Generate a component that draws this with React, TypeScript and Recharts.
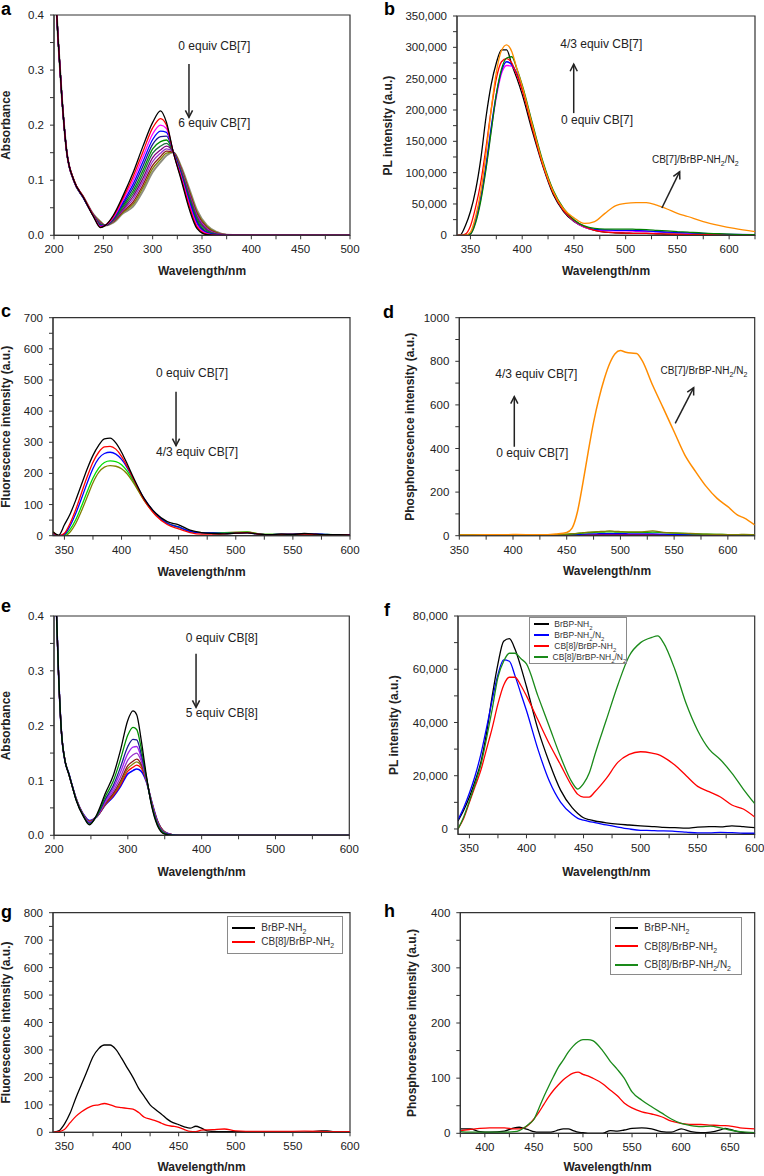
import React from 'react';
import { LineChart, Line, XAxis, YAxis, ReferenceArea, ReferenceLine, ReferenceDot, Legend } from 'recharts';

const FONT = '"Liberation Sans", Arial, Helvetica, sans-serif';
const INK = '#222';

// ---------- a: absorbance, CB[7] titration (0 -> 6 equiv)
const A_X = [200, 204, 208, 213, 220, 230, 240, 247, 252, 260, 270, 280, 290, 300, 308, 314, 321, 329, 337, 345, 355, 365, 375, 400, 500];
const A_BLACK = [0.5, 0.36, 0.25, 0.15, 0.1, 0.068, 0.034, 0.014, 0.018, 0.036, 0.072, 0.113, 0.161, 0.205, 0.226, 0.205, 0.15, 0.1, 0.048, 0.012, 0.001, 0, 0, 0, 0];
const A_RED = [0.5, 0.36, 0.25, 0.15, 0.101, 0.069, 0.035, 0.015, 0.018, 0.034, 0.068, 0.106, 0.151, 0.195, 0.212, 0.2, 0.15, 0.103, 0.053, 0.015, 0.002, 0, 0, 0, 0];
const A_MAGENTA = [0.5, 0.36, 0.25, 0.15, 0.099, 0.068, 0.035, 0.016, 0.018, 0.032, 0.064, 0.099, 0.142, 0.184, 0.2, 0.194, 0.15, 0.106, 0.057, 0.018, 0.003, 0, 0, 0, 0];
const A_BLUE = [0.5, 0.36, 0.25, 0.15, 0.1, 0.067, 0.035, 0.017, 0.018, 0.031, 0.06, 0.092, 0.133, 0.174, 0.189, 0.187, 0.151, 0.108, 0.061, 0.021, 0.004, 0.001, 0, 0, 0];
const A_NAVY = [0.5, 0.36, 0.25, 0.15, 0.1, 0.068, 0.036, 0.018, 0.018, 0.03, 0.057, 0.086, 0.125, 0.165, 0.179, 0.18, 0.151, 0.11, 0.064, 0.024, 0.005, 0.001, 0, 0, 0];
const A_GREEN = [0.5, 0.36, 0.25, 0.15, 0.099, 0.067, 0.035, 0.019, 0.018, 0.029, 0.054, 0.08, 0.117, 0.157, 0.17, 0.173, 0.151, 0.112, 0.067, 0.027, 0.006, 0.001, 0, 0, 0];
const A_DKGREEN = [0.5, 0.36, 0.25, 0.15, 0.1, 0.068, 0.036, 0.02, 0.018, 0.028, 0.051, 0.075, 0.11, 0.149, 0.162, 0.167, 0.151, 0.114, 0.07, 0.03, 0.008, 0.002, 0, 0, 0];
const A_PURPLE = [0.5, 0.36, 0.25, 0.15, 0.101, 0.069, 0.036, 0.021, 0.018, 0.027, 0.048, 0.07, 0.103, 0.141, 0.155, 0.162, 0.151, 0.116, 0.073, 0.033, 0.01, 0.002, 0, 0, 0];
const A_VIOLET = [0.5, 0.36, 0.25, 0.15, 0.1, 0.068, 0.036, 0.022, 0.018, 0.026, 0.046, 0.065, 0.097, 0.134, 0.149, 0.157, 0.151, 0.118, 0.076, 0.036, 0.012, 0.003, 0.001, 0, 0];
const A_BROWN = [0.5, 0.36, 0.25, 0.15, 0.101, 0.069, 0.037, 0.023, 0.018, 0.025, 0.044, 0.06, 0.091, 0.127, 0.143, 0.153, 0.151, 0.12, 0.079, 0.039, 0.014, 0.004, 0.001, 0, 0];
const A_OLIVE = [0.5, 0.36, 0.25, 0.15, 0.1, 0.068, 0.037, 0.024, 0.018, 0.024, 0.042, 0.056, 0.086, 0.121, 0.138, 0.149, 0.151, 0.122, 0.082, 0.042, 0.016, 0.005, 0.001, 0, 0];
const A_GREY = [0.5, 0.36, 0.25, 0.15, 0.1, 0.069, 0.038, 0.025, 0.018, 0.023, 0.04, 0.052, 0.08, 0.115, 0.133, 0.145, 0.151, 0.124, 0.085, 0.045, 0.018, 0.006, 0.001, 0, 0];

// ---------- b: PL intensity, CB[7]
const B_X = [337, 340, 345, 350, 355, 360, 365, 370, 375, 380, 385, 390, 395, 400, 410, 420, 430, 440, 450, 460, 470, 480, 490, 500, 510, 520, 530, 540, 550, 560, 575, 590, 605, 625];
const B_BLACK = [0, 500, 15000, 38000, 72000, 122000, 188000, 240000, 275000, 296000, 296000, 272000, 250000, 225000, 165000, 110000, 65000, 38000, 22000, 13000, 8000, 5000, 4000, 3500, 3000, 3000, 2500, 2000, 2000, 1500, 1000, 1000, 500, 0];
const B_RED = [0, 0, 2000, 15000, 45000, 85000, 140000, 200000, 250000, 277000, 282000, 275000, 255000, 232000, 170000, 112000, 68000, 40000, 24000, 14000, 8000, 5000, 4000, 3500, 3000, 3000, 2500, 2000, 1500, 1000, 1000, 500, 0, 0];
const B_ORANGE = [0, 0, 0, 5000, 30000, 70000, 130000, 200000, 260000, 295000, 304000, 293000, 265000, 238000, 175000, 115000, 70000, 42000, 28000, 19000, 22000, 35000, 47000, 51000, 52000, 52000, 48000, 42000, 35000, 30000, 22000, 16000, 11000, 6000];
const B_GREEN = [0, 0, 0, 2000, 20000, 55000, 105000, 165000, 225000, 265000, 283000, 285000, 265000, 240000, 178000, 118000, 72000, 43000, 25000, 15000, 11000, 10000, 10000, 10000, 9500, 9000, 8000, 7000, 6000, 5000, 3500, 2500, 1500, 1000];
const B_BLUE = [0, 0, 0, 3000, 25000, 62000, 112000, 172000, 225000, 262000, 277000, 272000, 258000, 236000, 175000, 115000, 70000, 41000, 24000, 14000, 9500, 8500, 8000, 8000, 7500, 7000, 6000, 5000, 4500, 4000, 3000, 2000, 1500, 1000];
const B_MAGENTA = [0, 0, 0, 2000, 22000, 58000, 108000, 168000, 220000, 258000, 271000, 270000, 256000, 234000, 174000, 114000, 69000, 40000, 23000, 13000, 8500, 7500, 7000, 7000, 6500, 6000, 5500, 4500, 4000, 3500, 2500, 1500, 1000, 500];

// ---------- c: fluorescence, CB[7]
const C_X = [340, 345, 350, 355, 360, 365, 370, 375, 380, 385, 390, 395, 400, 405, 410, 420, 430, 440, 450, 460, 470, 480, 490, 500, 510, 520, 530, 540, 550, 560, 570, 580, 590, 600];
const C_BLACK = [12, 2, 35, 70, 115, 165, 215, 258, 290, 311, 313, 298, 268, 230, 190, 118, 72, 45, 35, 18, 10, 7, 6, 8, 9, 5, 3, 5, 4, 7, 5, 3, 3, 2];
const C_RED = [10, 0, 8, 40, 85, 138, 190, 236, 268, 285, 287, 278, 255, 222, 185, 113, 65, 36, 22, 10, 5, 5, 6, 8, 10, 5, 3, 4, 4, 5, 4, 3, 3, 2];
const C_BLUE = [8, 0, 5, 32, 72, 120, 170, 216, 248, 264, 268, 262, 245, 218, 185, 118, 70, 40, 28, 14, 9, 9, 7, 8, 9, 5, 3, 5, 5, 6, 6, 4, 3, 3];
const C_GREEN = [10, 0, 2, 20, 52, 95, 142, 185, 217, 235, 240, 238, 228, 207, 178, 114, 68, 40, 27, 14, 10, 9, 9, 10, 11, 6, 4, 5, 4, 5, 4, 4, 3, 3];
const C_OLIVE = [14, 0, 0, 12, 40, 80, 125, 170, 203, 220, 225, 223, 215, 198, 172, 112, 67, 40, 28, 14, 10, 9, 10, 11, 12, 6, 4, 5, 5, 5, 4, 3, 3, 3];

// ---------- d: phosphorescence, CB[7]
const D_X = [350, 375, 400, 425, 440, 450, 455, 460, 465, 470, 475, 480, 485, 490, 495, 500, 505, 510, 515, 520, 530, 540, 550, 560, 570, 580, 590, 600, 610, 615, 625];
const D_ORANGE = [3, 4, 5, 4, 8, 15, 35, 110, 240, 385, 520, 630, 720, 790, 835, 849, 842, 838, 836, 805, 690, 584, 477, 370, 294, 225, 171, 133, 92, 82, 49];
const D_GREEN = [4, 5, 4, 4, 5, 6, 8, 10, 12, 14, 15, 16, 17, 18, 17, 16, 16, 15, 15, 15, 16, 14, 12, 10, 8, 7, 6, 5, 4, 4, 3];
const D_OLIVE = [3, 4, 3, 4, 5, 7, 9, 11, 14, 16, 18, 19, 20, 22, 20, 19, 18, 18, 18, 18, 22, 15, 13, 11, 9, 7, 6, 5, 5, 6, 4];
const D_BLUE = [4, 3, 3, 3, 4, 4, 5, 6, 7, 8, 8, 9, 9, 9, 9, 9, 9, 8, 8, 8, 8, 7, 6, 5, 5, 4, 4, 4, 3, 3, 3];
const D_RED = [3, 3, 3, 3, 3, 3, 3, 4, 4, 4, 4, 5, 5, 5, 5, 5, 5, 5, 5, 5, 5, 4, 4, 4, 4, 3, 3, 3, 3, 3, 5];
const D_BLACK = [2, 2, 2, 2, 3, 5, 7, 4, 3, 3, 3, 3, 3, 3, 3, 3, 3, 3, 3, 3, 3, 3, 3, 2, 2, 2, 2, 2, 2, 2, 2];

// ---------- e: absorbance, CB[8] titration (0 -> 5 equiv)
const E_X = [200, 203, 206, 210, 215, 220, 225, 230, 240, 248, 258, 270, 280, 290, 300, 307, 312, 318, 325, 332, 340, 350, 360, 370, 400, 500, 600];
const E_BLACK = [0.5, 0.42, 0.3, 0.19, 0.135, 0.112, 0.088, 0.064, 0.034, 0.019, 0.038, 0.078, 0.108, 0.155, 0.21, 0.227, 0.22, 0.175, 0.11, 0.055, 0.018, 0.002, 0, 0, 0, 0, 0];
const E_GREEN = [0.5, 0.42, 0.3, 0.19, 0.136, 0.112, 0.088, 0.065, 0.035, 0.02, 0.036, 0.072, 0.098, 0.138, 0.183, 0.197, 0.193, 0.16, 0.107, 0.057, 0.02, 0.003, 0, 0, 0, 0, 0];
const E_NAVY = [0.5, 0.42, 0.3, 0.19, 0.135, 0.113, 0.089, 0.065, 0.035, 0.022, 0.035, 0.067, 0.09, 0.124, 0.162, 0.175, 0.174, 0.149, 0.105, 0.058, 0.022, 0.004, 0.001, 0, 0, 0, 0];
const E_PURPLE = [0.5, 0.42, 0.3, 0.19, 0.136, 0.112, 0.088, 0.066, 0.036, 0.023, 0.035, 0.064, 0.085, 0.115, 0.149, 0.161, 0.162, 0.142, 0.104, 0.059, 0.023, 0.004, 0.001, 0, 0, 0, 0];
const E_VIOLET = [0.5, 0.42, 0.3, 0.19, 0.135, 0.113, 0.089, 0.066, 0.036, 0.024, 0.034, 0.061, 0.08, 0.106, 0.137, 0.147, 0.15, 0.136, 0.103, 0.06, 0.024, 0.005, 0.001, 0, 0, 0, 0];
const E_BROWN = [0.5, 0.42, 0.3, 0.19, 0.136, 0.112, 0.088, 0.066, 0.037, 0.025, 0.034, 0.059, 0.076, 0.099, 0.127, 0.135, 0.139, 0.13, 0.102, 0.061, 0.025, 0.005, 0.001, 0, 0, 0, 0];
const E_OLIVE = [0.5, 0.42, 0.3, 0.19, 0.135, 0.113, 0.089, 0.067, 0.037, 0.026, 0.034, 0.058, 0.074, 0.095, 0.122, 0.13, 0.134, 0.127, 0.101, 0.062, 0.026, 0.006, 0.001, 0, 0, 0, 0];
const E_RED = [0.5, 0.42, 0.3, 0.19, 0.136, 0.112, 0.088, 0.067, 0.037, 0.026, 0.034, 0.057, 0.072, 0.092, 0.117, 0.124, 0.128, 0.123, 0.1, 0.062, 0.026, 0.006, 0.001, 0, 0, 0, 0];
const E_BLUE = [0.5, 0.42, 0.3, 0.19, 0.135, 0.113, 0.089, 0.067, 0.038, 0.027, 0.034, 0.056, 0.07, 0.089, 0.112, 0.118, 0.121, 0.117, 0.098, 0.063, 0.027, 0.006, 0.001, 0, 0, 0, 0];

// ---------- f: PL intensity, CB[8]
const F_X = [340, 345, 350, 355, 360, 365, 370, 375, 380, 385, 390, 395, 400, 410, 420, 430, 440, 445, 450, 455, 460, 470, 480, 490, 500, 510, 515, 520, 530, 540, 550, 560, 570, 580, 590, 600];
const F_BLACK = [3000, 7000, 12000, 18000, 25000, 36000, 50000, 62000, 70500, 71500, 67500, 61000, 53500, 37500, 25000, 14500, 8000, 5800, 4200, 3500, 3000, 2300, 1800, 1500, 1200, 900, 800, 600, 500, 300, 700, 900, 800, 1200, 900, 500];
const F_BLUE = [3500, 8000, 13500, 20000, 28000, 38000, 48500, 58000, 63500, 63000, 57500, 51000, 44500, 30000, 18000, 10000, 5500, 4000, 3300, 2800, 2400, 1500, 700, 0, -500, -600, -700, -700, -900, -1200, -1500, -1500, -1300, -1400, -1600, -1600];
const F_RED = [0, 4000, 10000, 16000, 22000, 30000, 38000, 47000, 54000, 57000, 57000, 54000, 50000, 41000, 32000, 24000, 16000, 13000, 12000, 12000, 14000, 19000, 25000, 28000, 29000, 28500, 28000, 27000, 24000, 20000, 16000, 14000, 12000, 9000, 7500, 4500];
const F_GREEN = [0, 4500, 10500, 17000, 24000, 34000, 45000, 57000, 63000, 66000, 66000, 64000, 62000, 50000, 38500, 27000, 17500, 15000, 17000, 21000, 28000, 41000, 54000, 65000, 70000, 72000, 72500, 70000, 60000, 47000, 37000, 30000, 26000, 21000, 15000, 9500];

// ---------- g: fluorescence, CB[8]
const G_X = [340, 345, 350, 355, 360, 365, 370, 375, 380, 385, 390, 395, 400, 405, 410, 415, 420, 425, 430, 435, 440, 445, 450, 455, 460, 465, 470, 475, 480, 490, 500, 520, 540, 560, 575, 580, 590, 600];
const G_BLACK = [0, 5, 30, 70, 125, 175, 225, 275, 305, 318, 318, 302, 270, 235, 200, 160, 130, 100, 82, 66, 48, 35, 28, 20, 15, 22, 15, 5, 3, 2, 2, 2, 1, 0, 5, 5, 0, 0];
const G_RED = [0, 2, 10, 35, 58, 75, 88, 97, 100, 105, 100, 93, 90, 87, 84, 72, 55, 48, 42, 33, 25, 22, 18, 10, 3, 2, 8, 9, 10, 12, 5, 3, 3, 4, 3, 2, 2, 2];

// ---------- h: phosphorescence, CB[8]
const H_X = [375, 385, 395, 405, 420, 430, 435, 440, 445, 450, 455, 460, 465, 470, 475, 480, 485, 490, 495, 500, 505, 510, 520, 528, 535, 542, 550, 560, 570, 580, 590, 600, 610, 620, 630, 640, 645, 650, 660, 675];
const H_BLACK = [8, 8, 3, 2, 4, 10, 11, 9, 6, 3, 2, 2, 2, 3, 6, 8, 8, 5, 2, 1, 0, 0, 0, 5, 4, 6, 9, 10, 8, 3, 2, 8, 3, 1, 2, 6, 9, 7, 2, 0];
const H_RED = [5, 7, 9, 10, 10, 8, 8, 10, 16, 26, 38, 52, 66, 78, 88, 97, 104, 109, 111, 107, 104, 100, 90, 78, 68, 55, 46, 39, 35, 30, 22, 18, 16, 16, 15, 14, 14, 13, 10, 8];
const H_GREEN = [3, 2, 2, 2, 2, 3, 5, 10, 17, 25, 45, 66, 85, 103, 120, 133, 147, 158, 166, 170, 170, 168, 150, 130, 116, 100, 75, 60, 48, 37, 26, 18, 14, 12, 13, 10, 8, 6, 3, 1];

// ---------- axis tick labels
const A_XMAJOR = [200, 250, 300, 350, 400, 450, 500];
const ABS_YMAJOR = [0, 0.1, 0.2, 0.3, 0.4];
const PL_XMAJOR = [350, 400, 450, 500, 550, 600];
const B_YMAJOR = [0, 50000, 100000, 150000, 200000, 250000, 300000, 350000];
const C_YMAJOR = [0, 100, 200, 300, 400, 500, 600, 700];
const D_YMAJOR = [0, 200, 400, 600, 800, 1000];
const E_XMAJOR = [200, 300, 400, 500, 600];
const F_YMAJOR = [0, 20000, 40000, 60000, 80000];
const G_YMAJOR = [0, 100, 200, 300, 400, 500, 600, 700, 800];
const H_XMAJOR = [400, 450, 500, 550, 600, 650];
const H_YMAJOR = [0, 100, 200, 300, 400];

type Series = { name: string; color: string; ys: number[]; xs?: number[]; width?: number };
type Note = { x: number; y: number; text: string; size?: number };
type Arrow = { x1: number; y1: number; x2: number; y2: number };
type LegendBox = { left: number; top: number; width: number; rowH: number; padTop: number; size: number; sample: number; gap: number };
type PanelDef = {
  letter: string; x0: number; y0: number; w: number; h: number;
  plot: [number, number, number, number]; yTitleX: number; xTitleY: number;
  xs: number[]; xDomain: [number, number]; yDomain: [number, number];
  xMajor: number[]; yMajor: number[]; yFmt: (v: number) => string;
  xTitle: string; yTitle: string; series: Series[]; notes?: Note[]; arrows?: Arrow[]; legend?: LegendBox;
};

const pts = (xs: number[], ys: number[]) => xs.map((x, i) => ({ x, y: ys[i] }));
const comma = (v: number) => v.toLocaleString('en-US');
const plain = (v: number) => String(v);
const oneDec = (v: number) => v.toFixed(1);

function withMinor(major: number[], domain: [number, number]) {
  const step = major[1] - major[0];
  const out: number[] = [];
  const first = major[0] - step / 2;
  if (first >= domain[0] - 1e-9) out.push(first);
  major.forEach((m, i) => {
    out.push(m);
    const mid = m + step / 2;
    if (i < major.length - 1 || mid <= domain[1] + 1e-9) out.push(mid);
  });
  return out;
}

function chemSvg(text: string, size: number) {
  const segs = text.split(/(?<=[NH])2/);
  const shift = size * 0.28;
  const out: React.ReactNode[] = [];
  segs.forEach((s, i) => {
    if (s) out.push(<tspan key={'t' + i} dy={i > 0 ? -shift : 0}>{s}</tspan>);
    if (i < segs.length - 1) out.push(<tspan key={'s' + i} fontSize={size * 0.7} dy={shift}>2</tspan>);
  });
  return out;
}

function chemHtml(text: string) {
  const segs = text.split(/(?<=[NH])2/);
  return segs.map((s, i) => (
    <React.Fragment key={i}>
      {s}
      {i < segs.length - 1 && <sub style={{ fontSize: '0.7em', lineHeight: 0 }}>2</sub>}
    </React.Fragment>
  ));
}

const ArrowShape = (p: any) => {
  const { x1, y1, x2, y2 } = p;
  const a = Math.atan2(y2 - y1, x2 - x1);
  const hl = 7;
  const hw = 3.6;
  const bx = x2 - hl * Math.cos(a);
  const by = y2 - hl * Math.sin(a);
  const px = -Math.sin(a) * hw;
  const py = Math.cos(a) * hw;
  return (
    <g>
      <line x1={x1} y1={y1} x2={x2} y2={y2} stroke={INK} strokeWidth={1.5} />
      <path d={`M${bx + px},${by + py} L${x2},${y2} L${bx - px},${by - py}`} fill="none" stroke={INK} strokeWidth={1.5} />
    </g>
  );
};

const makeTick = (major: number[], fmt: (v: number) => string, axis: 'x' | 'y') => (props: any) => {
  const { x, y, payload } = props;
  if (!major.includes(payload.value)) return <g />;
  return (
    <text x={x} y={y} dy={axis === 'x' ? '0.71em' : '0.35em'} textAnchor={axis === 'x' ? 'middle' : 'end'} fontSize={11.5} fill={INK}>
      {fmt(payload.value)}
    </text>
  );
};

function BoxLegend({ payload, cfg }: { payload: any[]; cfg: LegendBox }) {
  return (
    <div style={{ border: '1px solid #8a8a8a', background: '#fff', paddingTop: cfg.padTop, paddingBottom: cfg.padTop, fontSize: cfg.size, color: '#333', fontFamily: FONT }}>
      {(payload || []).map((item: any) => (
        <div key={item.value} style={{ display: 'flex', alignItems: 'center', height: cfg.rowH, whiteSpace: 'nowrap' }}>
          <span style={{ display: 'inline-block', marginLeft: 4, width: cfg.sample, borderTop: `2px solid ${item.color}`, marginRight: cfg.gap }} />
          <span>{chemHtml(String(item.value))}</span>
        </div>
      ))}
    </div>
  );
}

function Panel({ p }: { p: PanelDef }) {
  const [L, T, R, B] = p.plot;
  const xh = p.xTitleY + 4 - B;
  const margin = { top: T - p.y0, right: p.x0 + p.w - R, left: p.yTitleX - p.x0, bottom: p.y0 + p.h - B - xh };
  const xTicks = withMinor(p.xMajor, p.xDomain);
  const yTicks = withMinor(p.yMajor, p.yDomain);
  return (
    <div style={{ position: 'absolute', left: p.x0, top: p.y0 }}>
      <LineChart width={p.w} height={p.h} margin={margin}>
        <ReferenceArea x1={p.xDomain[0]} x2={p.xDomain[1]} y1={p.yDomain[0]} y2={p.yDomain[1]} fill="none" fillOpacity={0} stroke="#333" strokeWidth={1.2} ifOverflow="visible" />
        <XAxis
          type="number" dataKey="x" domain={p.xDomain} allowDataOverflow ticks={xTicks} interval={0}
          height={xh} tickSize={4} tickMargin={6} stroke="#333" tick={makeTick(p.xMajor, plain, 'x')}
          label={{ value: p.xTitle, position: 'insideBottom', offset: 0, fontSize: 12, fontWeight: 700, fill: INK }}
        />
        <YAxis
          type="number" domain={p.yDomain} allowDataOverflow ticks={yTicks} interval={0}
          width={L - p.yTitleX} tickSize={4} tickMargin={6} stroke="#333" tick={makeTick(p.yMajor, p.yFmt, 'y')}
          label={{ value: p.yTitle, angle: -90, position: 'insideLeft', offset: 0, style: { textAnchor: 'middle' }, fontSize: 12, fontWeight: 700, fill: INK }}
        />
        {p.series.map((s, i) => (
          <Line
            key={i} data={pts(s.xs ?? p.xs, s.ys)} dataKey="y" name={s.name} type="monotone"
            stroke={s.color} strokeWidth={s.width ?? 1.3} dot={false} activeDot={false} isAnimationActive={false} legendType="line"
          />
        ))}
        {(p.arrows || []).map((a, i) => (
          <ReferenceLine key={'a' + i} segment={[{ x: a.x1, y: a.y1 }, { x: a.x2, y: a.y2 }]} shape={ArrowShape} ifOverflow="visible" />
        ))}
        {(p.notes || []).map((n, i) => (
          <ReferenceDot
            key={'n' + i} x={n.x} y={n.y} r={0} ifOverflow="visible"
            shape={(dp: any) => (
              <text x={dp.cx} y={dp.cy} dy="0.35em" fontSize={n.size ?? 12} fill={INK}>{chemSvg(n.text, n.size ?? 12)}</text>
            )}
          />
        ))}
        {p.legend && (
          <Legend
            layout="vertical" align="center" verticalAlign="middle"
            wrapperStyle={{ left: p.legend.left, top: p.legend.top, width: p.legend.width, height: 'auto' }}
            content={(lp: any) => <BoxLegend payload={lp.payload} cfg={p.legend as LegendBox} />}
          />
        )}
      </LineChart>
    </div>
  );
}

const WL = 'Wavelength/nm';

const PANELS: PanelDef[] = [
  {
    letter: 'a', x0: 0, y0: 0, w: 382, h: 295, plot: [54, 15, 350, 235.3], yTitleX: 6, xTitleY: 271,
    xs: A_X, xDomain: [200, 500], yDomain: [0, 0.4], xMajor: A_XMAJOR, yMajor: ABS_YMAJOR, yFmt: oneDec,
    xTitle: WL, yTitle: 'Absorbance',
    series: [
      { name: '6 equiv', color: '#8e8e7e', ys: A_GREY, width: 2 },
      { name: 'olive', color: '#808000', ys: A_OLIVE },
      { name: 'brown', color: '#8b1a1a', ys: A_BROWN },
      { name: 'violet', color: '#9932cc', ys: A_VIOLET },
      { name: 'purple', color: '#800080', ys: A_PURPLE },
      { name: 'dkgreen', color: '#1f6f3f', ys: A_DKGREEN },
      { name: 'green', color: '#009000', ys: A_GREEN },
      { name: 'navy', color: '#1a1a90', ys: A_NAVY },
      { name: 'blue', color: '#0000ff', ys: A_BLUE },
      { name: 'magenta', color: '#ff00ff', ys: A_MAGENTA },
      { name: 'red', color: '#ff0000', ys: A_RED },
      { name: '0 equiv', color: '#000000', ys: A_BLACK },
    ],
    notes: [{ x: 326, y: 0.3365, text: '0 equiv CB[7]' }, { x: 326, y: 0.197, text: '6 equiv CB[7]' }],
    arrows: [{ x1: 336.8, y1: 0.311, x2: 336.8, y2: 0.214 }],
  },
  {
    letter: 'b', x0: 382, y0: 0, w: 382, h: 295, plot: [457, 16, 755, 235.3], yTitleX: 388, xTitleY: 271,
    xs: B_X, xDomain: [337, 625], yDomain: [0, 350000], xMajor: PL_XMAJOR, yMajor: B_YMAJOR, yFmt: comma,
    xTitle: WL, yTitle: 'PL intensity (a.u.)',
    series: [
      { name: 'black', color: '#000000', ys: B_BLACK },
      { name: 'magenta', color: '#ff00ff', ys: B_MAGENTA },
      { name: 'blue', color: '#0000ff', ys: B_BLUE },
      { name: 'red', color: '#ff0000', ys: B_RED },
      { name: 'green', color: '#008000', ys: B_GREEN },
      { name: 'orange', color: '#ff8c00', ys: B_ORANGE },
    ],
    notes: [
      { x: 436.8, y: 298900, text: '4/3 equiv CB[7]' },
      { x: 437.5, y: 177600, text: '0 equiv CB[7]' },
      { x: 525.4, y: 115400, text: 'CB[7]/BrBP-NH2/N2', size: 10 },
    ],
    arrows: [{ x1: 449.8, y1: 195000, x2: 449.8, y2: 273000 }, { x1: 535, y1: 43600, x2: 552.2, y2: 101500 }],
  },
  {
    letter: 'c', x0: 0, y0: 295, w: 382, h: 290, plot: [53, 317.7, 350, 535.7], yTitleX: 6, xTitleY: 571.7,
    xs: C_X, xDomain: [340, 600], yDomain: [0, 700], xMajor: PL_XMAJOR, yMajor: C_YMAJOR, yFmt: plain,
    xTitle: WL, yTitle: 'Fluorescence intensity (a.u.)',
    series: [
      { name: 'olive', color: '#808000', ys: C_OLIVE },
      { name: 'green', color: '#00dd00', ys: C_GREEN },
      { name: 'blue', color: '#0000ff', ys: C_BLUE },
      { name: 'red', color: '#ff0000', ys: C_RED },
      { name: 'black', color: '#000000', ys: C_BLACK },
    ],
    notes: [{ x: 430.2, y: 510.7, text: '0 equiv CB[7]' }, { x: 430.2, y: 256, text: '4/3 equiv CB[7]' }],
    arrows: [{ x1: 447.7, y1: 462.5, x2: 447.7, y2: 289 }],
  },
  {
    letter: 'd', x0: 382, y0: 295, w: 382, h: 290, plot: [459.3, 317.7, 754.7, 535.7], yTitleX: 410, xTitleY: 571,
    xs: D_X, xDomain: [350, 625], yDomain: [0, 1000], xMajor: PL_XMAJOR, yMajor: D_YMAJOR, yFmt: plain,
    xTitle: WL, yTitle: 'Phosphorescence intensity (a.u.)',
    series: [
      { name: 'black', color: '#000000', ys: D_BLACK },
      { name: 'red', color: '#ff0000', ys: D_RED },
      { name: 'blue', color: '#0000ff', ys: D_BLUE },
      { name: 'green', color: '#00b000', ys: D_GREEN },
      { name: 'olive', color: '#808000', ys: D_OLIVE },
      { name: 'orange', color: '#ff8c00', ys: D_ORANGE, width: 1.5 },
    ],
    notes: [
      { x: 383.5, y: 725, text: '4/3 equiv CB[7]' },
      { x: 384.4, y: 362, text: '0 equiv CB[7]' },
      { x: 537.4, y: 742, text: 'CB[7]/BrBP-NH2/N2', size: 10 },
    ],
    arrows: [{ x1: 401.2, y1: 408, x2: 401.2, y2: 638 }, { x1: 551, y1: 515.6, x2: 568.2, y2: 679 }],
  },
  {
    letter: 'e', x0: 0, y0: 590, w: 382, h: 290, plot: [54, 616, 349.3, 835.3], yTitleX: 6, xTitleY: 871.7,
    xs: E_X, xDomain: [200, 600], yDomain: [0, 0.4], xMajor: E_XMAJOR, yMajor: ABS_YMAJOR, yFmt: oneDec,
    xTitle: WL, yTitle: 'Absorbance',
    series: [
      { name: 'blue', color: '#0000ff', ys: E_BLUE, width: 1.6 },
      { name: 'red', color: '#ff0000', ys: E_RED },
      { name: 'olive', color: '#808000', ys: E_OLIVE },
      { name: 'brown', color: '#8b1a1a', ys: E_BROWN },
      { name: 'violet', color: '#9932cc', ys: E_VIOLET },
      { name: 'purple', color: '#a020f0', ys: E_PURPLE },
      { name: 'navy', color: '#1a1a90', ys: E_NAVY },
      { name: 'green', color: '#009000', ys: E_GREEN },
      { name: 'black', color: '#000000', ys: E_BLACK },
    ],
    notes: [{ x: 378.4, y: 0.353, text: '0 equiv CB[8]' }, { x: 378.4, y: 0.215, text: '5 equiv CB[8]' }],
    arrows: [{ x1: 392.4, y1: 0.331, x2: 392.4, y2: 0.2335 }],
  },
  {
    letter: 'f', x0: 382, y0: 590, w: 382, h: 290, plot: [458, 616, 754.7, 834.3], yTitleX: 394, xTitleY: 871.7,
    xs: F_X, xDomain: [340, 600], yDomain: [-2000, 80000], xMajor: PL_XMAJOR, yMajor: F_YMAJOR, yFmt: comma,
    xTitle: WL, yTitle: 'PL intensity (a.u.)',
    series: [
      { name: 'BrBP-NH2', color: '#000000', ys: F_BLACK },
      { name: 'BrBP-NH2/N2', color: '#0000ff', ys: F_BLUE },
      { name: 'CB[8]/BrBP-NH2', color: '#ff0000', ys: F_RED },
      { name: 'CB[8]/BrBP-NH2/N2', color: '#1a8a1a', ys: F_GREEN },
    ],
    legend: { left: 147.3, top: 26.7, width: 98, rowH: 11.1, padTop: 0.5, size: 8.5, sample: 15, gap: 5 },
  },
  {
    letter: 'g', x0: 0, y0: 880, w: 382, h: 296, plot: [53, 912.7, 350, 1132.3], yTitleX: 6, xTitleY: 1167.3,
    xs: G_X, xDomain: [340, 600], yDomain: [0, 800], xMajor: PL_XMAJOR, yMajor: G_YMAJOR, yFmt: plain,
    xTitle: WL, yTitle: 'Fluorescence intensity (a.u.)',
    series: [
      { name: 'BrBP-NH2', color: '#000000', ys: G_BLACK },
      { name: 'CB[8]/BrBP-NH2', color: '#ff0000', ys: G_RED },
    ],
    legend: { left: 227.3, top: 36, width: 116, rowH: 14.3, padTop: 3.5, size: 10, sample: 23, gap: 6 },
  },
  {
    letter: 'h', x0: 382, y0: 880, w: 382, h: 296, plot: [460.3, 912.7, 754.7, 1133.3], yTitleX: 412, xTitleY: 1167.3,
    xs: H_X, xDomain: [375, 675], yDomain: [0, 400], xMajor: H_XMAJOR, yMajor: H_YMAJOR, yFmt: plain,
    xTitle: WL, yTitle: 'Phosphorescence intensity (a.u.)',
    series: [
      { name: 'BrBP-NH2', color: '#000000', ys: H_BLACK },
      { name: 'CB[8]/BrBP-NH2', color: '#ff0000', ys: H_RED },
      { name: 'CB[8]/BrBP-NH2/N2', color: '#1a8a1a', ys: H_GREEN },
    ],
    legend: { left: 228.3, top: 37.3, width: 132, rowH: 18.6, padTop: 0, size: 10, sample: 23, gap: 6 },
  },
];

const LETTER_POS: Record<string, [number, number]> = {
  a: [1, 15], b: [384, 15], c: [1, 317], d: [383, 318], e: [1, 612], f: [384, 616], g: [1, 918], h: [384, 917],
};

export default function App() {
  return (
    <div style={{ position: 'absolute', left: 0, top: 0, width: 764, height: 1176, background: '#fff', fontFamily: FONT, overflow: 'hidden' }}>
      {PANELS.map((p) => <Panel key={p.letter} p={p} />)}
      <svg width={764} height={1176} style={{ position: 'absolute', left: 0, top: 0, pointerEvents: 'none' }}>
        {PANELS.map((p) => (
          <text key={p.letter} x={LETTER_POS[p.letter][0]} y={LETTER_POS[p.letter][1]} fontSize={18} fontWeight={700} fill="#000">
            {p.letter}
          </text>
        ))}
      </svg>
    </div>
  );
}
